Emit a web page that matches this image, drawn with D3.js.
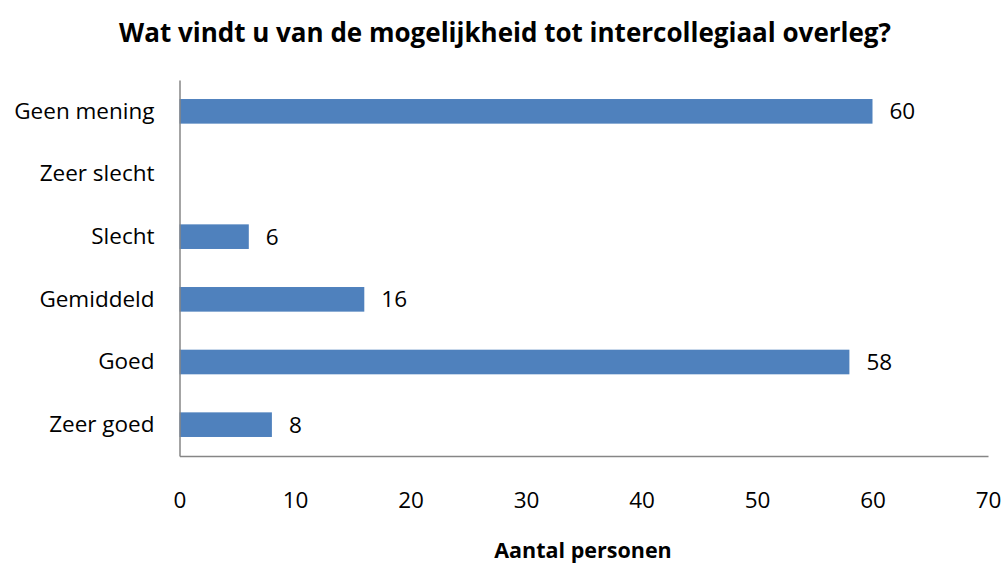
<!DOCTYPE html>
<html>
<head>
<meta charset="utf-8">
<script src="https://cdn.jsdelivr.net/npm/d3@7"></script>
<style>
  body { margin: 0; background: #fff; }
  text { font-family: "Open Sans", "Liberation Sans", sans-serif; fill: #000; }
</style>
</head>
<body>
<div id="chart"></div>
<script>
const categories = ["Geen mening", "Zeer slecht", "Slecht", "Gemiddeld", "Goed", "Zeer goed"];
const counts = [60, 0, 6, 16, 58, 8];
const xTicks = [0, 10, 20, 30, 40, 50, 60, 70];

const width = 1003, height = 563;
const margin = { top: 80, right: 15, bottom: 107, left: 179.5 };
const w = 988 - margin.left, h = 456 - margin.top;

const data = categories.map((c, i) => ({ cat: c, value: counts[i] }));

const svg = d3.select("#chart").append("svg")
  .attr("width", width)
  .attr("height", height);

const g = svg.append("g")
  .attr("transform", "translate(" + margin.left + "," + margin.top + ")");

let x = d3.scaleLinear().domain([0, 70]).range([0, w]);
let y = d3.scaleBand().domain(categories).range([0, h])
  .paddingInner(0.607).paddingOuter(0.3035);

// bars
g.selectAll("rect.bar")
  .data(data.filter(d => d.value > 0))
  .enter()
  .append("rect")
  .attr("class", "bar")
  .attr("x", x(0))
  .attr("y", d => y(d.cat))
  .attr("width", d => x(d.value) - x(0))
  .attr("height", y.bandwidth())
  .attr("fill", "#4f81bd");

// value labels
g.selectAll("text.val")
  .data(data.filter(d => d.value > 0))
  .enter()
  .append("text")
  .attr("class", "val")
  .attr("x", d => x(d.value) + 17)
  .attr("y", d => y(d.cat) + y.bandwidth() / 2)
  .attr("dy", "0.35em")
  .style("font-size", "22.5px")
  .text(d => d.value);

// axes
const xAxis = g.append("g")
  .attr("transform", `translate(0,${h})`)
  .call(d3.axisBottom(x).tickValues(xTicks).tickSize(0).tickPadding(36));
xAxis.select(".domain").attr("stroke", "#868686").attr("stroke-width", 1.5);
xAxis.selectAll("text").style("font-size", "22.5px").attr("fill", "#000");

const yAxis = g.append("g")
  .call(d3.axisLeft(y).tickSize(0).tickPadding(25));
yAxis.select(".domain").attr("stroke", "#868686").attr("stroke-width", 1.5);
yAxis.selectAll("text").style("font-size", "22.5px").attr("fill", "#000");

// titles
svg.append("text")
  .attr("x", 505)
  .attr("y", 42)
  .attr("text-anchor", "middle")
  .style("font-size", "26px")
  .style("font-weight", "bold")
  .text("Wat vindt u van de mogelijkheid tot intercollegiaal overleg?");

svg.append("text")
  .attr("x", 583)
  .attr("y", 558)
  .attr("text-anchor", "middle")
  .style("font-size", "21.5px")
  .style("font-weight", "bold")
  .text("Aantal personen");
</script>
</body>
</html>
